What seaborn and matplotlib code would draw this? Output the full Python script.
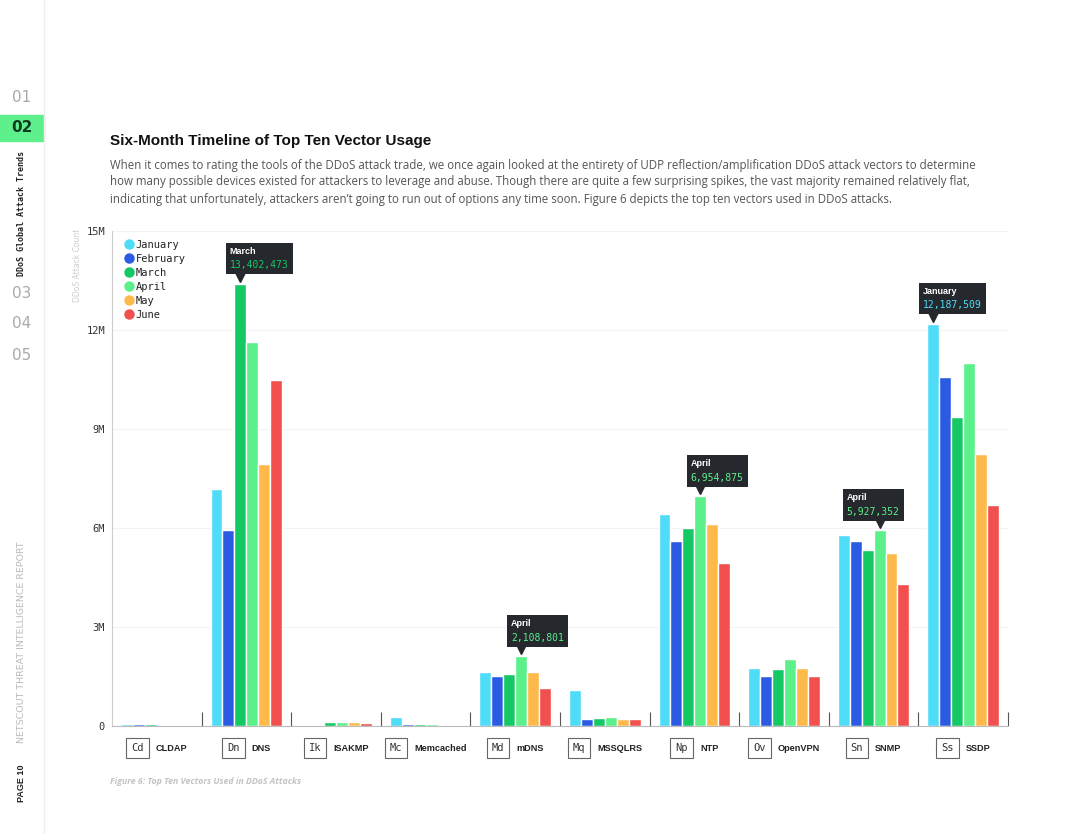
import pandas as pd
import matplotlib
matplotlib.use("Agg")
import matplotlib.pyplot as plt
import seaborn as sns
from matplotlib.lines import Line2D
from matplotlib.patches import Rectangle
from matplotlib.offsetbox import TextArea, VPacker, HPacker, PaddedBox, AnnotationBbox
from matplotlib.transforms import offset_copy

# data
vectors = ["CLDAP", "DNS", "ISAKMP", "Memcached", "mDNS", "MSSQLRS", "NTP", "OpenVPN", "SNMP", "SSDP"]
abbrevs = ["Cd", "Dn", "Ik", "Mc", "Md", "Mq", "Np", "Ov", "Sn", "Ss"]
months = ["January", "February", "March", "April", "May", "June"]

jan = [70000, 7180000, 10000, 270000, 1640000, 1090000, 6420000, 1760000, 5790000, 12187509]
feb = [50000, 5940000, 20000, 50000, 1520000, 220000, 5600000, 1520000, 5600000, 10580000]
mar = [60000, 13402473, 120000, 50000, 1580000, 230000, 6000000, 1730000, 5330000, 9360000]
apr = [10000, 11640000, 120000, 50000, 2108801, 270000, 6954875, 2030000, 5927352, 11000000]
may = [10000, 7940000, 110000, 30000, 1640000, 220000, 6120000, 1760000, 5240000, 8240000]
jun = [20000, 10500000, 100000, 30000, 1150000, 200000, 4940000, 1520000, 4300000, 6700000]

month_colors = ["#4fdcf8", "#2b5be3", "#14c864", "#5cf08a", "#fdba4b", "#f24f4f"]

# highlighted values (tooltips)
tip_vectors = ["DNS", "mDNS", "NTP", "SNMP", "SSDP"]
tip_months = ["March", "April", "April", "April", "January"]
tip_anchor = [0.18, 0.19, 0.18, 0.62, 0.17]

df = pd.DataFrame({
    "vector": vectors * 6,
    "month": [m for m in months for _ in vectors],
    "count": jan + feb + mar + apr + may + jun,
})

sns.set_style("white")
plt.rcParams["font.family"] = ["DejaVu Sans"]
MONO = "DejaVu Sans Mono"

fig = plt.figure(figsize=(10.8, 8.34), dpi=100)
ax = fig.add_axes([0.1037, 0.1295, 0.8296, 0.5935])

sns.barplot(data=df, x="vector", y="count", hue="month", order=vectors, hue_order=months,
            palette=dict(zip(months, month_colors)), saturation=1, width=0.8,
            errorbar=None, legend=False, ax=ax)

ax.set_xlim(-0.5, len(vectors) - 0.5)
ax.set_ylim(0, 15e6)
ax.set_yticks([0, 3e6, 6e6, 9e6, 12e6, 15e6])
ax.set_yticklabels(["0", "3M", "6M", "9M", "12M", "15M"], family=MONO, fontsize=7.5, color="#333333")
ax.set_xticks(range(len(vectors)))
ax.set_xticklabels([])
ax.tick_params(length=0)
ax.tick_params(axis="y", pad=5)
ax.set_xlabel("")
ax.set_ylabel("")
ax.yaxis.grid(True, color="#f3f3f3", lw=0.8)
ax.set_axisbelow(True)
for s in ["top", "right"]:
    ax.spines[s].set_visible(False)
ax.spines["left"].set_color("#cccccc")
ax.spines["left"].set_linewidth(0.8)
ax.spines["bottom"].set_color("#bbbbbb")
ax.spines["bottom"].set_linewidth(0.8)

# group separators
ax.vlines([i + 0.5 for i in range(len(vectors))], 0, 0.42e6, color="#555555", lw=0.8, clip_on=False)

# legend
handles = [Line2D([], [], marker="o", ls="", color=c, markersize=6.5) for c in month_colors]
ax.legend(handles, months, loc="upper left", bbox_to_anchor=(0.008, 0.99), frameon=False,
          prop={"family": MONO, "size": 7.5}, labelspacing=0.38, handletextpad=0.2,
          handlelength=1.0, borderaxespad=0, labelcolor="#222222")

# x labels: boxed abbreviation + name, centered under each group
for i, (ab, name) in enumerate(zip(abbrevs, vectors)):
    abox = PaddedBox(TextArea(ab, textprops=dict(family=MONO, size=7.5, color="#333333")),
                     pad=3.6, draw_frame=True,
                     patch_attrs=dict(boxstyle="square,pad=0", fc="white", ec="#666666", lw=0.8))
    nm = TextArea(name, textprops=dict(family="Liberation Sans", weight="bold", size=6.6, color="#222222"))
    pack = HPacker(children=[abox, nm], sep=5, align="center", pad=0)
    ab_ = AnnotationBbox(pack, (i, -0.045), xycoords=ax.get_xaxis_transform(),
                         box_alignment=(0.5, 0.5), frameon=False, pad=0, annotation_clip=False)
    ax.add_artist(ab_)

# tooltips
tip_bg = "#25292d"
for vec, mon, frac in zip(tip_vectors, tip_months, tip_anchor):
    j = months.index(mon)
    i = vectors.index(vec)
    bar = ax.containers[j][i]
    bx = bar.get_x() + bar.get_width() / 2
    by = bar.get_height()
    tr = offset_copy(ax.transData, fig=fig, x=0, y=9, units="dots")
    ax.plot([bx], [by], marker="v", ms=10, color=tip_bg, transform=tr, clip_on=False, zorder=5)
    val = f"{int(round(by)):,}"
    inner = VPacker(children=[
        TextArea(mon, textprops=dict(family="Liberation Sans", weight="bold", size=6.5, color="white")),
        TextArea(val, textprops=dict(family=MONO, size=7, color=month_colors[j])),
    ], align="left", pad=0, sep=3)
    tip = AnnotationBbox(inner, (bx, by), xybox=(0, 10), boxcoords="offset points",
                         box_alignment=(frac, 0), pad=0.55, zorder=6,
                         bboxprops=dict(boxstyle="square", fc=tip_bg, ec="none"))
    ax.add_artist(tip)

fig.text(77 / 1080, 1 - 265 / 834, "DDoS Attack Count", rotation=90, ha="center", va="center",
         fontsize=5.5, color="#cccccc")

# title and intro text
fig.text(110 / 1080, 1 - 141 / 834, "Six-Month Timeline of Top Ten Vector Usage",
         family="Liberation Sans", weight="bold", fontsize=11, color="#111111", va="center")
para = [
    "When it comes to rating the tools of the DDoS attack trade, we once again looked at the entirety of UDP reflection/amplification DDoS attack vectors to determine",
    "how many possible devices existed for attackers to leverage and abuse. Though there are quite a few surprising spikes, the vast majority remained relatively flat,",
    "indicating that unfortunately, attackers aren\u2019t going to run out of options any time soon. Figure 6 depicts the top ten vectors used in DDoS attacks.",
]
for k, line in enumerate(para):
    fig.text(110 / 1080, 1 - (165 + 17 * k) / 834, line, family="Open Sans", fontsize=8.3,
             color="#555555", va="center")

fig.text(110 / 1080, 1 - 781 / 834, "Figure 6: Top Ten Vectors Used in DDoS Attacks",
         family="Open Sans", style="italic", weight="bold", fontsize=6.3, color="#c4c4c4", va="center")

# left sidebar
fig.add_artist(Line2D([44 / 1080, 44 / 1080], [0, 1], color="#eeeeee", lw=1, transform=fig.transFigure))
fig.add_artist(Rectangle((0, 1 - 141 / 834), 44 / 1080, 26 / 834, color="#5ef08c",
                         transform=fig.transFigure, zorder=0))
for lab, yy in [("01", 97), ("03", 293), ("04", 324), ("05", 355)]:
    fig.text(22 / 1080, 1 - yy / 834, lab, ha="center", va="center", fontsize=11,
             family="Liberation Sans Narrow", color="#aaaaaa")
fig.text(22 / 1080, 1 - 128 / 834, "02", ha="center", va="center", fontsize=11,
         family="Liberation Sans Narrow", weight="bold", color="#0d3b1e")
fig.text(22 / 1080, 1 - 214 / 834, "DDoS Global Attack Trends", rotation=90, ha="center", va="center",
         family=MONO, weight="bold", fontsize=6, color="#222222")
fig.text(22 / 1080, 1 - 642 / 834, "NETSCOUT THREAT INTELLIGENCE REPORT", rotation=90, ha="center",
         va="center", fontsize=6.8, color="#bbbbbb")
fig.text(22 / 1080, 1 - 783 / 834, "PAGE 10", rotation=90, ha="center", va="center",
         family="Liberation Sans", weight="bold", fontsize=6.5, color="#222222")

fig.savefig("out.png", dpi=100, facecolor="white")
